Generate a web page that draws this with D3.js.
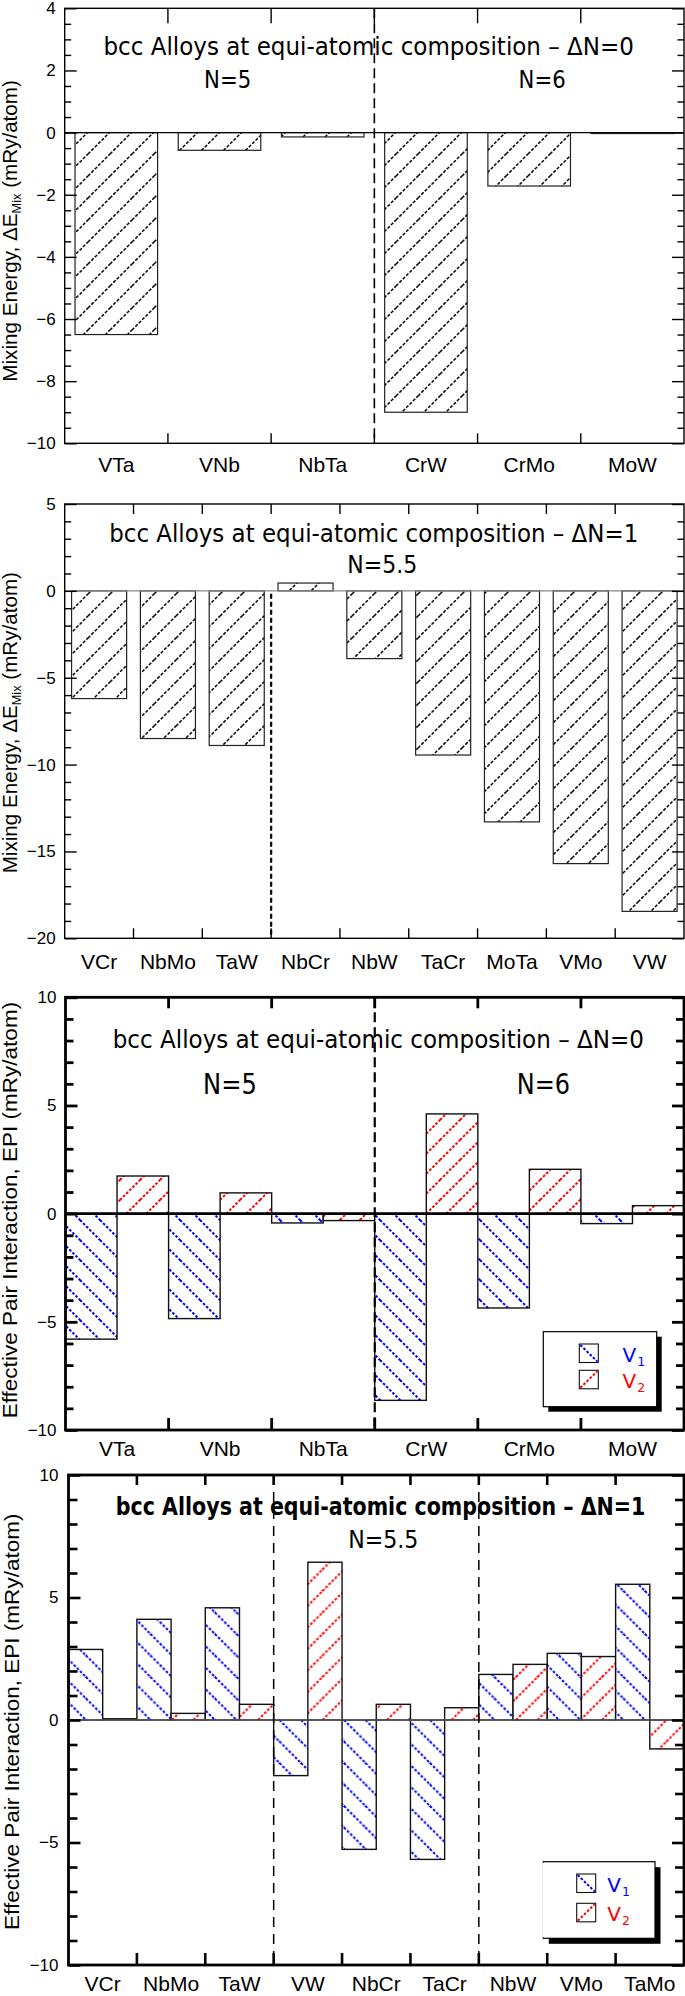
<!DOCTYPE html>
<html><head><meta charset="utf-8">
<script src="https://cdn.jsdelivr.net/npm/d3@7"></script>
<style>body{margin:0;background:#fff}svg{display:block}</style>
</head><body>
<script>
// ---------------- data ----------------
const p1Categories = ["VTa","VNb","NbTa","CrW","CrMo","MoW"];
const p1Values = [-6.5,-0.57,-0.14,-9.0,-1.72,-0.03];
const p1YTicks = [4,2,0,-2,-4,-6,-8,-10];

const p2Categories = ["VCr","NbMo","TaW","NbCr","NbW","TaCr","MoTa","VMo","VW"];
const p2Values = [-6.2,-8.5,-8.9,0.45,-3.9,-9.45,-13.3,-15.7,-18.45];
const p2YTicks = [5,0,-5,-10,-15,-20];

const p3Categories = ["VTa","VNb","NbTa","CrW","CrMo","MoW"];
const p3V1 = [-5.8,-4.85,-0.43,-8.63,-4.36,-0.46];
const p3V2 = [1.74,0.96,-0.32,4.61,2.05,0.37];
const p3YTicks = [10,5,0,-5,-10];

const p4Categories = ["VCr","NbMo","TaW","VW","NbCr","TaCr","NbW","VMo","TaMo"];
const p4V1 = [2.88,4.11,4.58,-2.27,-5.28,-5.69,1.86,2.72,5.54];
const p4V2 = [0.05,0.27,0.64,6.44,0.64,0.5,2.27,2.59,-1.18];
const p4YTicks = [10,5,0,-5,-10];

const seriesNames = ["V1","V2"];
const titleDN0 = "bcc Alloys at equi-atomic composition \u2013 \u0394N=0";
const titleDN1 = "bcc Alloys at equi-atomic composition \u2013 \u0394N=1";

// ---------------- setup ----------------
const W = 685, H = 1996;
const svg = d3.select("body").append("svg").attr("width", W).attr("height", H);
const defs = svg.append("defs");
const NUM_FONT = "'Liberation Sans', Arial, Helvetica, sans-serif";
const TXT_FONT = "'DejaVu Sans', Verdana, sans-serif";
const BLUE = "#0000ff", RED = "#ff0000";

function hatch(id, s, dir, color, sw, dash) {
  const p = defs.append("pattern").attr("id", id).attr("patternUnits", "userSpaceOnUse")
    .attr("width", s).attr("height", s);
  p.append("rect").attr("width", s).attr("height", s).attr("fill", "#fff");
  const d = dir === "/"
    ? `M0,${s} L${s},0 M${-s/2},${s/2} L${s/2},${-s/2} M${s/2},${s*1.5} L${s*1.5},${s/2}`
    : `M0,0 L${s},${s} M${-s/2},${s/2} L${s/2},${s*1.5} M${s/2},${-s/2} L${s*1.5},${s/2}`;
  p.append("path").attr("d", d).attr("stroke", color).attr("stroke-width", sw)
    .attr("stroke-dasharray", dash).attr("fill", "none");
}
hatch("hBlack", 22, "/", "#000", 1.5, "3.2 1.6");
hatch("hBlue3", 20, "\\", BLUE, 2, "2.6 1.8");
hatch("hRed3", 20, "/", RED, 2, "2.6 1.8");
hatch("hBlue4", 21.5, "\\", BLUE, 2, "2.6 1.8");
hatch("hRed4", 21.5, "/", RED, 2, "2.6 1.8");

function fitText(parent, str, L, R, baseline, size, font, weight, fill) {
  const g = parent.append("g");
  const t = g.append("text").attr("x", 0).attr("y", 0)
    .style("font-family", font).style("font-size", size + "px")
    .style("font-weight", weight || "normal").attr("fill", fill || "#000").text(str);
  const w = t.node().getComputedTextLength();
  g.attr("transform", `translate(${L},${baseline}) scale(${(R - L) / w},1)`);
}

function yTitle(parent, parts, bx, y0, y1, size) {
  const g = parent.append("g");
  const t = g.append("text").attr("x", 0).attr("y", 0)
    .style("font-family", NUM_FONT).style("font-size", size + "px").attr("fill", "#000");
  parts.forEach(p => {
    const ts = t.append("tspan").text(p.t);
    if (p.sub) ts.style("font-size", (size * 0.62) + "px").attr("dy", size * 0.22);
    if (p.after) ts.attr("dy", -size * 0.22);
  });
  const w = t.node().getComputedTextLength();
  g.attr("transform", `translate(${bx},${y1}) rotate(-90) scale(${(y1 - y0) / w},1)`);
}

function drawPanel(c) {
  const g = svg.append("g");
  const x = d3.scaleBand().domain(c.cats).range([c.left, c.right]);
  const y = d3.scaleLinear().domain(c.dom).range([c.top, c.bottom]);

  // bars
  if (c.values) {
    const xb = d3.scaleBand().domain(c.cats).range([c.left, c.right]).paddingInner(0.2).paddingOuter(0.1);
    g.selectAll("rect.bar").data(c.cats.map((k, i) => ({k, v: c.values[i]}))).join("rect")
      .attr("x", d => xb(d.k)).attr("width", xb.bandwidth())
      .attr("y", d => y(Math.max(0, d.v)))
      .attr("height", d => Math.max(0.8, Math.abs(y(d.v) - y(0))))
      .attr("fill", "url(#hBlack)").attr("stroke", "#222").attr("stroke-width", 1.2);
  } else {
    const xs = d3.scaleBand().domain(seriesNames).range([0, x.bandwidth()]);
    const rows = [];
    c.cats.forEach((k, i) => {
      rows.push({k, s: "V1", v: c.v1[i]});
      rows.push({k, s: "V2", v: c.v2[i]});
    });
    g.selectAll("rect.bar").data(rows).join("rect")
      .attr("x", d => x(d.k) + xs(d.s)).attr("width", xs.bandwidth())
      .attr("y", d => y(Math.max(0, d.v)))
      .attr("height", d => Math.max(0.8, Math.abs(y(d.v) - y(0))))
      .attr("fill", d => d.s === "V1" ? c.fillV1 : c.fillV2)
      .attr("stroke", "#111").attr("stroke-width", 1.4);
  }

  // zero line
  g.append("line").attr("x1", c.left).attr("x2", c.right).attr("y1", y(0)).attr("y2", y(0))
    .attr("stroke", c.zeroColor).attr("stroke-width", c.zeroWidth);

  // dashed separators
  c.seps.forEach(idx => {
    const xx = x(c.cats[idx]);
    g.append("line").attr("x1", xx).attr("x2", xx)
      .attr("y1", c.sepFromZero ? y(0) + 3 : c.top).attr("y2", c.bottom)
      .attr("stroke", "#000").attr("stroke-width", c.sepWidth).attr("stroke-dasharray", c.sepDash);
  });

  // frame
  g.append("rect").attr("x", c.left).attr("y", c.top).attr("width", c.right - c.left)
    .attr("height", c.bottom - c.top).attr("fill", "none").attr("stroke", "#000")
    .attr("stroke-width", c.frameWidth);

  // y ticks (left and right) via d3 axes
  const minor = d3.range(c.dom[1], c.dom[0] + c.minorStep / 2, c.minorStep)
    .filter(v => !c.yTicks.some(t => Math.abs(t - v) < 1e-6));
  const styleAxis = a => {
    a.select(".domain").remove();
    a.selectAll(".tick line").attr("stroke", "#000").attr("stroke-width", c.tickWidth);
  };
  g.append("g").attr("transform", `translate(${c.left},0)`)
    .call(d3.axisLeft(y).tickValues(c.yTicks).tickSize(-c.majorLen).tickPadding(c.labelPad).tickFormat(d3.format("d")))
    .call(styleAxis)
    .call(a => a.selectAll(".tick text").style("font-family", NUM_FONT).style("font-size", "17px").attr("fill", "#000"));
  g.append("g").attr("transform", `translate(${c.left},0)`)
    .call(d3.axisLeft(y).tickValues(minor).tickSize(-c.minorLen).tickFormat(""))
    .call(styleAxis);
  g.append("g").attr("transform", `translate(${c.right},0)`)
    .call(d3.axisRight(y).tickValues(c.yTicks).tickSize(-c.majorLen).tickFormat(""))
    .call(styleAxis);
  g.append("g").attr("transform", `translate(${c.right},0)`)
    .call(d3.axisRight(y).tickValues(minor).tickSize(-c.minorLen).tickFormat(""))
    .call(styleAxis);

  // x boundary ticks (top and bottom)
  c.cats.slice(1).forEach(k => {
    const xx = x(k);
    g.append("line").attr("x1", xx).attr("x2", xx).attr("y1", c.top).attr("y2", c.top + c.xTopLen)
      .attr("stroke", "#000").attr("stroke-width", c.tickWidth);
    g.append("line").attr("x1", xx).attr("x2", xx).attr("y1", c.bottom).attr("y2", c.bottom - c.xBotLen)
      .attr("stroke", "#000").attr("stroke-width", c.tickWidth);
  });

  // x labels
  g.selectAll("text.xl").data(c.cats).join("text")
    .attr("x", d => x(d) + x.bandwidth() / 2).attr("y", c.xLabelBase)
    .attr("text-anchor", "middle").style("font-family", NUM_FONT).style("font-size", "21px")
    .attr("fill", "#000").text(d => d);

  // titles
  fitText(g, c.title, c.titleL, c.titleR, c.titleBase, c.titleSize, TXT_FONT, c.titleWeight);
  c.nLabels.forEach(n => fitText(g, n.t, n.L, n.R, n.base, n.size, TXT_FONT));

  yTitle(g, c.yTitleParts, c.yTitleX, c.yTitleY0, c.yTitleY1, 20);

  // legend
  if (c.legend) {
    const L = c.legend;
    g.append("rect").attr("x", L.x + L.sh).attr("y", L.y + L.sh).attr("width", L.w).attr("height", L.h).attr("fill", "#000");
    g.append("rect").attr("x", L.x).attr("y", L.y).attr("width", L.w).attr("height", L.h)
      .attr("fill", "#fff").attr("stroke", "#000").attr("stroke-width", 1.2);
    if (L.noLeft) g.append("line").attr("x1", L.x).attr("x2", L.x).attr("y1", L.y + 1).attr("y2", L.y + L.h - 1)
      .attr("stroke", "#fff").attr("stroke-width", 2);
    seriesNames.forEach((s, i) => {
      const sy = L.sw0 + i * L.swGap;
      g.append("rect").attr("x", L.swx).attr("y", sy).attr("width", 19).attr("height", 18.5)
        .attr("fill", "#fff").attr("stroke", "#111").attr("stroke-width", 1.1);
      g.append("line")
        .attr("x1", L.swx + 1).attr("x2", L.swx + 18)
        .attr("y1", i === 0 ? sy + 1 : sy + 17.5).attr("y2", i === 0 ? sy + 17.5 : sy + 1)
        .attr("stroke", i === 0 ? BLUE : RED).attr("stroke-width", 2).attr("stroke-dasharray", "2.6 1.8");
      const t = g.append("text").attr("x", L.tx).attr("y", L.tb0 + i * L.tbGap)
        .style("font-family", TXT_FONT).style("font-size", "20px").attr("fill", i === 0 ? BLUE : RED);
      t.append("tspan").text("V");
      t.append("tspan").text(String(i + 1)).style("font-size", "12.5px").attr("dy", 4).attr("dx", 1);
    });
  }
}

const base1 = {frameWidth: 1.4, tickWidth: 1.4, majorLen: 12, minorLen: 6.5, labelPad: 9,
  zeroColor: "#000", zeroWidth: 1.4};

drawPanel(Object.assign({}, base1, {
  cats: p1Categories, values: p1Values, yTicks: p1YTicks, dom: [4, -10], minorStep: 0.5,
  left: 64.7, right: 684, top: 8.3, bottom: 443.3,
  xTopLen: 15, xBotLen: 10, xLabelBase: 472,
  seps: [3], sepFromZero: false, sepWidth: 1.6, sepDash: "10 5",
  title: titleDN0, titleL: 103.5, titleR: 634.3, titleBase: 55, titleSize: 24,
  nLabels: [{t: "N=5", L: 204, R: 251.2, base: 88.3, size: 24}, {t: "N=6", L: 518.6, R: 565.7, base: 88.3, size: 24}],
  yTitleParts: [{t: "Mixing Energy, \u0394E"}, {t: "Mix", sub: true}, {t: " (mRy/atom)", after: true}],
  yTitleX: 17, yTitleY0: 80, yTitleY1: 381.7
}));

drawPanel(Object.assign({}, base1, {
  cats: p2Categories, values: p2Values, yTicks: p2YTicks, dom: [5, -20], minorStep: 1,
  left: 64.7, right: 684, top: 504, bottom: 938.3,
  xTopLen: 10, xBotLen: 10, xLabelBase: 969,
  zeroColor: "#888", zeroWidth: 1.4,
  seps: [3], sepFromZero: true, sepWidth: 2.2, sepDash: "5 3",
  title: titleDN1, titleL: 109.2, titleR: 638.7, titleBase: 541.7, titleSize: 24,
  nLabels: [{t: "N=5.5", L: 347.3, R: 417.2, base: 572.7, size: 25}],
  yTitleParts: [{t: "Mixing Energy, \u0394E"}, {t: "Mix", sub: true}, {t: " (mRy/atom)", after: true}],
  yTitleX: 17, yTitleY0: 571.7, yTitleY1: 873.3
}));

drawPanel({
  cats: p3Categories, v1: p3V1, v2: p3V2, fillV1: "url(#hBlue3)", fillV2: "url(#hRed3)",
  yTicks: p3YTicks, dom: [10, -10], minorStep: 1,
  left: 65.5, right: 684, top: 997.3, bottom: 1430,
  frameWidth: 2.8, tickWidth: 2.8, majorLen: 12, minorLen: 8, labelPad: 9,
  zeroColor: "#000", zeroWidth: 2.8,
  xTopLen: 11, xBotLen: 12, xLabelBase: 1456,
  seps: [3], sepFromZero: false, sepWidth: 2.2, sepDash: "10 5",
  title: titleDN0, titleL: 112.7, titleR: 644.4, titleBase: 1048.3, titleSize: 24,
  nLabels: [{t: "N=5", L: 203.1, R: 256.9, base: 1094, size: 28}, {t: "N=6", L: 516.8, R: 570.1, base: 1094, size: 28}],
  yTitleParts: [{t: "Effective Pair Interaction, EPI (mRy/atom)"}],
  yTitleX: 16.5, yTitleY0: 1001.7, yTitleY1: 1418.3,
  legend: {x: 543.3, y: 1331.7, w: 113.4, h: 75, sh: 5, swx: 579.3, sw0: 1344, swGap: 26.3,
    tx: 622.5, tb0: 1361.7, tbGap: 26.6}
});

drawPanel({
  cats: p4Categories, v1: p4V1, v2: p4V2, fillV1: "url(#hBlue4)", fillV2: "url(#hRed4)",
  yTicks: p4YTicks, dom: [10, -10], minorStep: 1,
  left: 68.5, right: 684, top: 1475, bottom: 1965,
  frameWidth: 2.8, tickWidth: 2.6, majorLen: 12, minorLen: 9, labelPad: 10,
  zeroColor: "#555", zeroWidth: 1.5,
  xTopLen: 10, xBotLen: 12, xLabelBase: 1991,
  seps: [3, 6], sepFromZero: false, sepWidth: 1.5, sepDash: "10 7",
  title: titleDN1, titleL: 115.8, titleR: 645.7, titleBase: 1515, titleSize: 24, titleWeight: "bold",
  nLabels: [{t: "N=5.5", L: 348.2, R: 418.5, base: 1548.3, size: 25}],
  yTitleParts: [{t: "Effective Pair Interaction, EPI (mRy/atom)"}],
  yTitleX: 19, yTitleY0: 1513.3, yTitleY1: 1930,
  legend: {x: 543.3, y: 1861.7, w: 111.7, h: 76.6, sh: 5.5, noLeft: true, swx: 576.7, sw0: 1874, swGap: 29.3,
    tx: 607.3, tb0: 1891.7, tbGap: 29.3}
});
</script>
</body></html>
